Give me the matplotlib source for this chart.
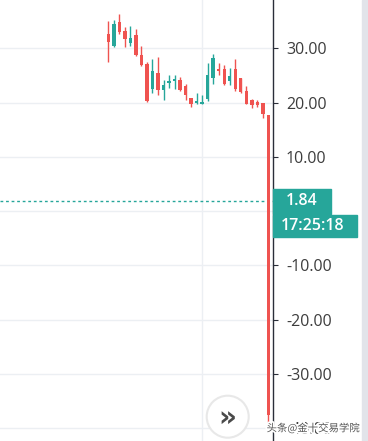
# WTI-style candlestick chart with right price axis
import numpy as np
import matplotlib
matplotlib.use("Agg")
from matplotlib import pyplot as plt
from matplotlib.patches import Rectangle, Circle
import matplotlib.patheffects as pe

plt.rcParams['font.family'] = ['Open Sans', 'DejaVu Sans']
plt.rcParams['axes.unicode_minus'] = False

# OHLC values
opens = [32.7, 30.4, 34.8, 33.2, 30.9, 32.4, 28.8, 27.2, 22.5, 25.5,
         22.3, 23.6, 24.0, 24.2, 23.1, 20.9, 20.0, 19.8, 20.6, 24.6,
         26.1, 26.2, 24.0, 26.1, 24.5, 22.2, 20.5, 20.1, 20.0, 17.7]
highs = [35.0, 35.2, 36.4, 33.9, 34.2, 33.5, 30.4, 27.5, 28.0, 28.4,
         24.1, 25.1, 25.1, 24.7, 23.4, 20.9, 21.7, 21.4, 27.3, 29.0,
         27.3, 27.0, 26.3, 28.1, 24.5, 23.1, 20.6, 20.5, 20.0, 17.7]
lows = [27.5, 30.2, 32.7, 30.2, 30.4, 28.6, 26.7, 20.2, 21.7, 21.4,
        20.5, 22.7, 22.5, 22.2, 20.5, 19.1, 19.8, 19.7, 20.3, 23.4,
        25.1, 23.3, 23.3, 22.2, 21.8, 19.7, 19.0, 19.2, 17.2, -40.3]
closes = [31.2, 34.4, 33.0, 31.8, 31.9, 28.8, 26.9, 20.3, 25.8, 22.3,
          23.3, 24.0, 24.4, 22.3, 21.4, 19.8, 20.3, 20.1, 25.1, 28.3,
          25.8, 23.4, 24.9, 22.5, 22.0, 19.8, 19.6, 19.6, 17.9, -37.6]
y_ticks = [-40, -30, -20, -10, 0, 10, 20, 30]
last_price = 1.84
time_label = "17:25:18"
watermark = "头条@金十交易学院"

up_color = '#26a69a'
down_color = '#ef5350'
grid_color = '#eceff3'
text_color = '#3d3d3d'

W, H = 368, 441
fig = plt.figure(figsize=(W / 100, H / 100), dpi=100)
fig.patch.set_facecolor('white')
ax_right = 273.3
ax = fig.add_axes([0, 0, ax_right / W, 1])

x = np.arange(len(opens))
o = np.array(opens)
c = np.array(closes)
colors = [up_color if cc >= oo else down_color for oo, cc in zip(o, c)]

ax.vlines(x, lows, highs, colors=colors, lw=1, zorder=3)
body = c - o
body = np.where(np.abs(body) < 0.3, np.sign(body + 1e-9) * 0.3, body)
ax.bar(x, body, bottom=o, width=0.62, color=colors, zorder=4)

ax.set_xlim(-19.62, 29.89)
ax.set_ylim(-42.33, 38.9)

# grid; the 0 label sits under the price box, so leave it blank
ax.set_yticks(y_ticks)
ax.yaxis.set_major_formatter(matplotlib.ticker.FuncFormatter(
    lambda v, p: '' if abs(v) < 1e-9 else f'{v:.2f}'))
ax.grid(axis='y', color=grid_color, lw=1, zorder=0)
ax.axvline(17, color=grid_color, lw=1, zorder=0)
ax.set_xticks([])

# price line
ax.axhline(last_price, color=up_color, lw=1, ls=(0, (2, 2)), zorder=2)

for s in ['top', 'left', 'bottom']:
    ax.spines[s].set_visible(False)
ax.spines['right'].set_color('#2a2e39')
ax.spines['right'].set_linewidth(1)
ax.yaxis.tick_right()
ax.tick_params(axis='y', length=3.6, width=0.8, pad=5.5, labelsize=11.5,
               colors='#2a2e39', labelcolor=text_color)

# price / time labels on the axis (pixel positions)
fig.canvas.draw()
py = ax.transData.transform((0, last_price))[1]
r1 = Rectangle((ax_right, py - 12.5), 58, 25, color=up_color,
               transform=None, zorder=10)
r2 = Rectangle((ax_right, py - 35.5), 84, 22, color=up_color,
               transform=None, zorder=10)
fig.patches.extend([r1, r2])
fig.text(302 / W, (py + 0.5) / H, f"{last_price:.2f}", color='white', fontsize=11.5,
         fontweight='semibold', ha='center', va='center', zorder=11)
fig.text(312.5 / W, (py - 24.5) / H, time_label, color='white', fontsize=11.5,
         fontweight='semibold', ha='center', va='center', zorder=11)

# right strip
fig.patches.append(Rectangle((362, 0), 6, H, color='#e2e4ea', transform=None, zorder=1))

# scroll button
btn = Circle((227.7, H - 416.7), 21, facecolor='white', edgecolor='#e8e8e8',
             lw=1.5, transform=None, zorder=12)
fig.patches.append(btn)
fig.text(227.7 / W, (H - 417.5) / H, "»", color='#4a4a4a', fontsize=20,
         fontweight='bold', ha='center', va='center', family='DejaVu Sans', zorder=13)

# watermark (sits over the -40.00 label, as in the source)
fig.text(313 / W, (H - 428) / H, watermark, color='#555555', fontsize=7.5,
         ha='center', va='center', family=['Noto Sans CJK SC', 'DejaVu Sans'],
         path_effects=[pe.withStroke(linewidth=2.5, foreground='white')], zorder=14)

fig.savefig('out.png', dpi=100)
